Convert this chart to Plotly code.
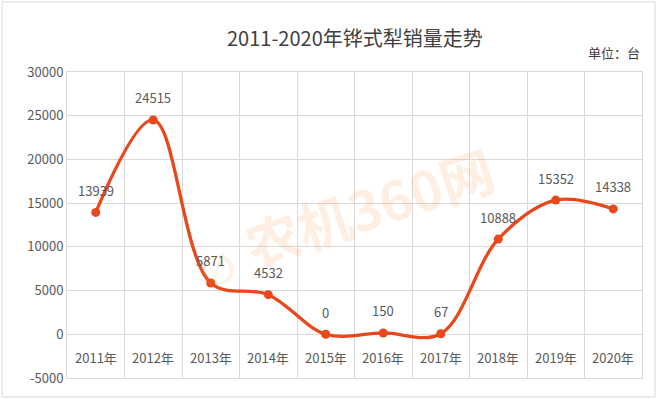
import plotly.graph_objects as go

categories = ["2011年", "2012年", "2013年", "2014年", "2015年", "2016年", "2017年", "2018年", "2019年", "2020年"]
sales = [13939, 24515, 5871, 4532, 0, 150, 67, 10888, 15352, 14338]
y_ticks = [-5000, 0, 5000, 10000, 15000, 20000, 25000, 30000]

FONT = "Noto Sans CJK SC"
LINE_COLOR = "#E8481C"
TEXT_COLOR = "#595959"
GRID = "#D9D9D9"
WM_COLOR = "rgba(247,150,60,0.15)"

xs = list(range(len(categories)))

fig = go.Figure()
fig.add_trace(go.Scatter(
    x=xs, y=sales, mode="lines+markers",
    line=dict(color=LINE_COLOR, width=3.3, shape="spline", smoothing=1.0),
    marker=dict(color=LINE_COLOR, size=9),
    hoverinfo="skip", showlegend=False,
))

annotations = []
annotations.append(dict(x=0.525, y=0.565, xref="paper", yref="paper", text="<b>农机360网</b>", textangle=-18,
                        showarrow=False, font=dict(family=FONT, size=54, color=WM_COLOR)))
annotations.append(dict(x=0.215, y=0.35, xref="paper", yref="paper", text="<b>∅</b>", textangle=-18,
                        showarrow=False, font=dict(family="DejaVu Sans", size=42, color=WM_COLOR)))
for x, v in zip(xs, sales):
    annotations.append(dict(x=x, y=v, xref="x", yref="y", text=str(v), showarrow=False,
                            yshift=22, font=dict(family=FONT, size=13, color=TEXT_COLOR)))
for x, c in zip(xs, categories):
    annotations.append(dict(x=x, y=-2700, xref="x", yref="y", text=c, showarrow=False,
                            font=dict(family=FONT, size=13, color=TEXT_COLOR)))
annotations.append(dict(x=0.5, y=1.114, xref="paper", yref="paper", text="2011-2020年铧式犁销量走势",
                        yanchor="middle", showarrow=False, font=dict(family=FONT, size=20, color="#404040")))
annotations.append(dict(x=1.0, y=1.065, xref="paper", yref="paper", text="单位：台", xanchor="right",
                        yanchor="middle", showarrow=False, font=dict(family=FONT, size=13, color="#404040")))

fig.update_layout(
    width=660, height=399,
    margin=dict(l=67, r=18, t=72, b=21),
    paper_bgcolor="white", plot_bgcolor="white",
    annotations=annotations,
    xaxis=dict(range=[-0.5, 9.5], tickvals=[i + 0.5 for i in range(-1, 10)], showticklabels=False,
               showgrid=True, gridcolor=GRID, gridwidth=1, zeroline=False,
               showline=True, linecolor=GRID, mirror=True, fixedrange=True),
    yaxis=dict(range=[-5000, 30000], tickvals=y_ticks, ticktext=[str(t) for t in y_ticks],
               showgrid=True, gridcolor=GRID, gridwidth=1, zeroline=False,
               showline=True, linecolor=GRID, mirror=True, ticks="", ticklen=0,
               tickfont=dict(family=FONT, size=13, color=TEXT_COLOR), fixedrange=True),
    shapes=[dict(type="rect", xref="paper", yref="paper", x0=-0.113, x1=1.0226, y0=-0.062, y1=1.229,
                 line=dict(color="#D9D9D9", width=1), layer="below")],
)

fig.write_html("out.html", config={"displayModeBar": False},
               post_script="document.body.style.margin='0';document.body.style.overflow='hidden';")
